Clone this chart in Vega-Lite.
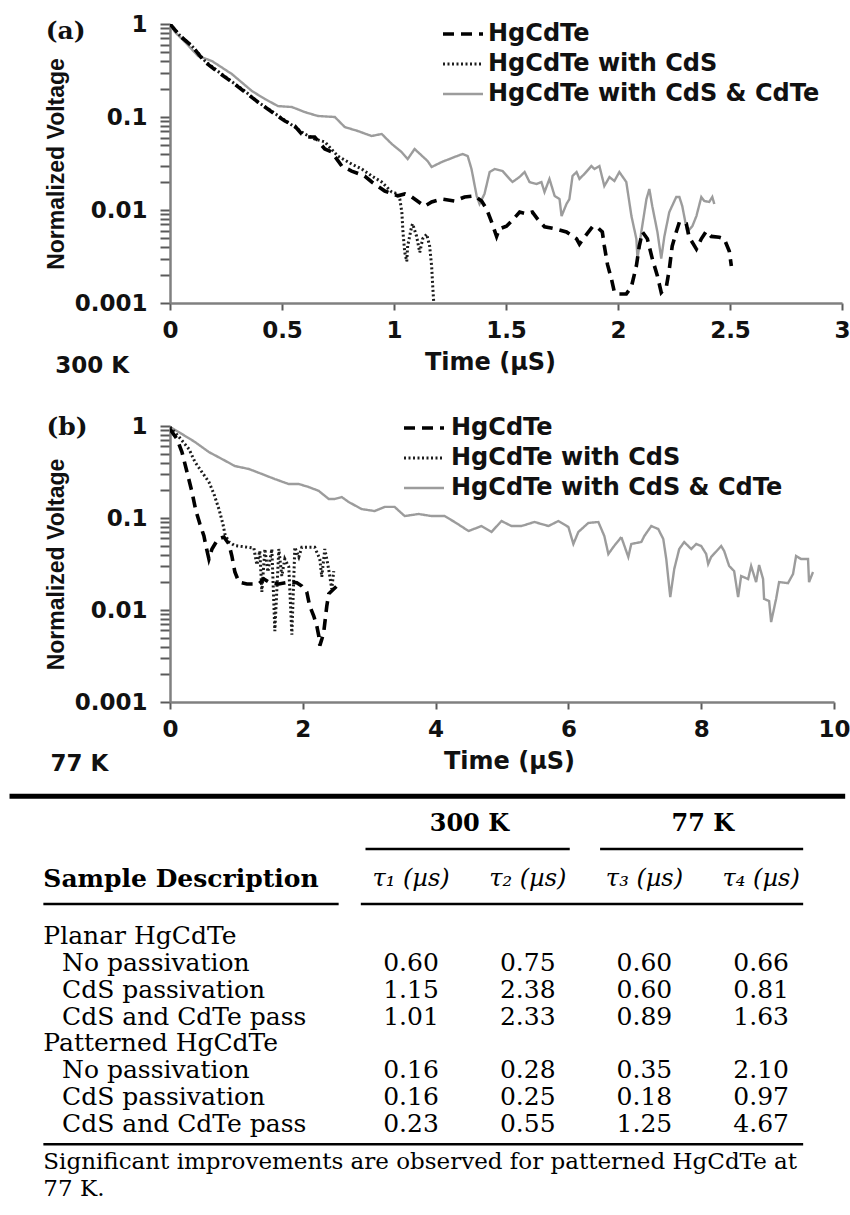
{
  "$schema": "https://vega.github.io/schema/vega-lite/v6.json",
  "background": "white",
  "padding": {"left": 7, "top": 13, "right": 0, "bottom": 0},
  "bounds": "flush",
  "spacing": 123,
  "resolve": {
    "scale": {"color": "independent", "strokeDash": "independent", "strokeWidth": "independent"},
    "legend": {"color": "independent", "strokeDash": "independent", "strokeWidth": "independent"}
  },
  "config": {
    "view": {"stroke": null},
    "font": "DejaVu Sans",
    "axis": {"grid": false, "ticks": true, "domainColor": "#808080", "domainWidth": 2.5, "tickColor": "#5a5a5a", "tickWidth": 2, "labelFont": "DejaVu Sans", "labelFontWeight": "bold", "labelFontSize": 23, "labelColor": "#111111", "titleColor": "#111111", "labelFlush": false, "format": "~g"},
    "axisX": {"tickSize": 7, "labelPadding": 9, "titleFont": "DejaVu Sans", "titleFontSize": 24, "titleFontWeight": "bold", "titlePadding": 8},
    "axisY": {"tickSize": 10, "labelPadding": 13, "titleFont": "Liberation Sans", "titleFontSize": 23, "titleFontWeight": "bold", "titlePadding": 6, "labelOverlap": false}
  },
  "datasets": {
    "panelA": [
      {"series":"HgCdTe with CdS & CdTe","time":0,"voltage":1},{"series":"HgCdTe with CdS & CdTe","time":0.022,"voltage":0.82},{"series":"HgCdTe with CdS & CdTe","time":0.067,"voltage":0.64},{"series":"HgCdTe with CdS & CdTe","time":0.125,"voltage":0.453},{"series":"HgCdTe with CdS & CdTe","time":0.187,"voltage":0.40},{"series":"HgCdTe with CdS & CdTe","time":0.276,"voltage":0.29},{"series":"HgCdTe with CdS & CdTe","time":0.366,"voltage":0.19},{"series":"HgCdTe with CdS & CdTe","time":0.424,"voltage":0.156},{"series":"HgCdTe with CdS & CdTe","time":0.482,"voltage":0.131},{"series":"HgCdTe with CdS & CdTe","time":0.544,"voltage":0.128},{"series":"HgCdTe with CdS & CdTe","time":0.602,"voltage":0.113},{"series":"HgCdTe with CdS & CdTe","time":0.66,"voltage":0.1025},{"series":"HgCdTe with CdS & CdTe","time":0.736,"voltage":0.10},{"series":"HgCdTe with CdS & CdTe","time":0.78,"voltage":0.078},{"series":"HgCdTe with CdS & CdTe","time":0.838,"voltage":0.0707},{"series":"HgCdTe with CdS & CdTe","time":0.90,"voltage":0.0625},{"series":"HgCdTe with CdS & CdTe","time":0.945,"voltage":0.0657},{"series":"HgCdTe with CdS & CdTe","time":0.99,"voltage":0.0513},{"series":"HgCdTe with CdS & CdTe","time":1.034,"voltage":0.042},{"series":"HgCdTe with CdS & CdTe","time":1.061,"voltage":0.0353},{"series":"HgCdTe with CdS & CdTe","time":1.092,"voltage":0.0453},{"series":"HgCdTe with CdS & CdTe","time":1.15,"voltage":0.0336},{"series":"HgCdTe with CdS & CdTe","time":1.168,"voltage":0.029},{"series":"HgCdTe with CdS & CdTe","time":1.213,"voltage":0.0328},{"series":"HgCdTe with CdS & CdTe","time":1.271,"voltage":0.0372},{"series":"HgCdTe with CdS & CdTe","time":1.306,"voltage":0.04},{"series":"HgCdTe with CdS & CdTe","time":1.329,"voltage":0.038},{"series":"HgCdTe with CdS & CdTe","time":1.346,"voltage":0.0276},{"series":"HgCdTe with CdS & CdTe","time":1.369,"voltage":0.0142},{"series":"HgCdTe with CdS & CdTe","time":1.382,"voltage":0.0116},{"series":"HgCdTe with CdS & CdTe","time":1.404,"voltage":0.0149},{"series":"HgCdTe with CdS & CdTe","time":1.427,"voltage":0.0256},{"series":"HgCdTe with CdS & CdTe","time":1.449,"voltage":0.0276},{"series":"HgCdTe with CdS & CdTe","time":1.485,"voltage":0.0262},{"series":"HgCdTe with CdS & CdTe","time":1.516,"voltage":0.0216},{"series":"HgCdTe with CdS & CdTe","time":1.529,"voltage":0.020},{"series":"HgCdTe with CdS & CdTe","time":1.56,"voltage":0.0226},{"series":"HgCdTe with CdS & CdTe","time":1.583,"voltage":0.0256},{"series":"HgCdTe with CdS & CdTe","time":1.605,"voltage":0.020},{"series":"HgCdTe with CdS & CdTe","time":1.636,"voltage":0.019},{"series":"HgCdTe with CdS & CdTe","time":1.658,"voltage":0.020},{"series":"HgCdTe with CdS & CdTe","time":1.672,"voltage":0.0156},{"series":"HgCdTe with CdS & CdTe","time":1.694,"voltage":0.0216},{"series":"HgCdTe with CdS & CdTe","time":1.717,"voltage":0.0142},{"series":"HgCdTe with CdS & CdTe","time":1.739,"voltage":0.0131},{"series":"HgCdTe with CdS & CdTe","time":1.748,"voltage":0.0086},{"series":"HgCdTe with CdS & CdTe","time":1.77,"voltage":0.0116},{"series":"HgCdTe with CdS & CdTe","time":1.783,"voltage":0.0131},{"series":"HgCdTe with CdS & CdTe","time":1.797,"voltage":0.0232},{"series":"HgCdTe with CdS & CdTe","time":1.815,"voltage":0.0256},{"series":"HgCdTe with CdS & CdTe","time":1.828,"voltage":0.0216},{"series":"HgCdTe with CdS & CdTe","time":1.85,"voltage":0.0244},{"series":"HgCdTe with CdS & CdTe","time":1.881,"voltage":0.0297},{"series":"HgCdTe with CdS & CdTe","time":1.895,"voltage":0.0276},{"series":"HgCdTe with CdS & CdTe","time":1.917,"voltage":0.0297},{"series":"HgCdTe with CdS & CdTe","time":1.939,"voltage":0.0181},{"series":"HgCdTe with CdS & CdTe","time":1.962,"voltage":0.0226},{"series":"HgCdTe with CdS & CdTe","time":1.984,"voltage":0.0205},{"series":"HgCdTe with CdS & CdTe","time":2.006,"voltage":0.0256},{"series":"HgCdTe with CdS & CdTe","time":2.037,"voltage":0.020},{"series":"HgCdTe with CdS & CdTe","time":2.06,"voltage":0.0086},{"series":"HgCdTe with CdS & CdTe","time":2.082,"voltage":0.0049},{"series":"HgCdTe with CdS & CdTe","time":2.087,"voltage":0.003},{"series":"HgCdTe with CdS & CdTe","time":2.104,"voltage":0.0058},{"series":"HgCdTe with CdS & CdTe","time":2.127,"voltage":0.0131},{"series":"HgCdTe with CdS & CdTe","time":2.14,"voltage":0.0168},{"series":"HgCdTe with CdS & CdTe","time":2.153,"voltage":0.011},{"series":"HgCdTe with CdS & CdTe","time":2.176,"voltage":0.0058},{"series":"HgCdTe with CdS & CdTe","time":2.193,"voltage":0.003},{"series":"HgCdTe with CdS & CdTe","time":2.207,"voltage":0.0052},{"series":"HgCdTe with CdS & CdTe","time":2.229,"voltage":0.0095},{"series":"HgCdTe with CdS & CdTe","time":2.26,"voltage":0.0138},{"series":"HgCdTe with CdS & CdTe","time":2.274,"voltage":0.0138},{"series":"HgCdTe with CdS & CdTe","time":2.287,"voltage":0.011},{"series":"HgCdTe with CdS & CdTe","time":2.309,"voltage":0.0058},{"series":"HgCdTe with CdS & CdTe","time":2.332,"voltage":0.0067},{"series":"HgCdTe with CdS & CdTe","time":2.35,"voltage":0.0086},{"series":"HgCdTe with CdS & CdTe","time":2.372,"voltage":0.0138},{"series":"HgCdTe with CdS & CdTe","time":2.385,"voltage":0.0125},{"series":"HgCdTe with CdS & CdTe","time":2.407,"voltage":0.0122},{"series":"HgCdTe with CdS & CdTe","time":2.421,"voltage":0.0138},{"series":"HgCdTe with CdS & CdTe","time":2.43,"voltage":0.0116},
      {"series":"HgCdTe with CdS","time":0,"voltage":1},{"series":"HgCdTe with CdS","time":0.045,"voltage":0.75},{"series":"HgCdTe with CdS","time":0.098,"voltage":0.58},{"series":"HgCdTe with CdS","time":0.156,"voltage":0.40},{"series":"HgCdTe with CdS","time":0.214,"voltage":0.31},{"series":"HgCdTe with CdS","time":0.276,"voltage":0.24},{"series":"HgCdTe with CdS","time":0.334,"voltage":0.19},{"series":"HgCdTe with CdS","time":0.392,"voltage":0.145},{"series":"HgCdTe with CdS","time":0.455,"voltage":0.115},{"series":"HgCdTe with CdS","time":0.513,"voltage":0.092},{"series":"HgCdTe with CdS","time":0.557,"voltage":0.078},{"series":"HgCdTe with CdS","time":0.60,"voltage":0.066},{"series":"HgCdTe with CdS","time":0.646,"voltage":0.058},{"series":"HgCdTe with CdS","time":0.691,"voltage":0.054},{"series":"HgCdTe with CdS","time":0.749,"voltage":0.038},{"series":"HgCdTe with CdS","time":0.811,"voltage":0.0312},{"series":"HgCdTe with CdS","time":0.856,"voltage":0.0276},{"series":"HgCdTe with CdS","time":0.901,"voltage":0.0232},{"series":"HgCdTe with CdS","time":0.945,"voltage":0.020},{"series":"HgCdTe with CdS","time":0.99,"voltage":0.0156},{"series":"HgCdTe with CdS","time":1.017,"voltage":0.0149},{"series":"HgCdTe with CdS","time":1.026,"voltage":0.0131},{"series":"HgCdTe with CdS","time":1.035,"voltage":0.0095},{"series":"HgCdTe with CdS","time":1.04,"voltage":0.0058},{"series":"HgCdTe with CdS","time":1.048,"voltage":0.0035},{"series":"HgCdTe with CdS","time":1.057,"voltage":0.0028},{"series":"HgCdTe with CdS","time":1.061,"voltage":0.0041},{"series":"HgCdTe with CdS","time":1.079,"voltage":0.0067},{"series":"HgCdTe with CdS","time":1.083,"voltage":0.0071},{"series":"HgCdTe with CdS","time":1.101,"voltage":0.0052},{"series":"HgCdTe with CdS","time":1.115,"voltage":0.0035},{"series":"HgCdTe with CdS","time":1.128,"voltage":0.0049},{"series":"HgCdTe with CdS","time":1.146,"voltage":0.0055},{"series":"HgCdTe with CdS","time":1.159,"voltage":0.0041},{"series":"HgCdTe with CdS","time":1.168,"voltage":0.0025},{"series":"HgCdTe with CdS","time":1.173,"voltage":0.0015},{"series":"HgCdTe with CdS","time":1.177,"voltage":0.00105},
      {"series":"HgCdTe","time":0,"voltage":1},{"series":"HgCdTe","time":0.045,"voltage":0.743},{"series":"HgCdTe","time":0.098,"voltage":0.58},{"series":"HgCdTe","time":0.156,"voltage":0.39},{"series":"HgCdTe","time":0.214,"voltage":0.305},{"series":"HgCdTe","time":0.276,"voltage":0.238},{"series":"HgCdTe","time":0.334,"voltage":0.186},{"series":"HgCdTe","time":0.392,"voltage":0.145},{"series":"HgCdTe","time":0.455,"voltage":0.113},{"series":"HgCdTe","time":0.513,"voltage":0.0906},{"series":"HgCdTe","time":0.557,"voltage":0.080},{"series":"HgCdTe","time":0.588,"voltage":0.0657},{"series":"HgCdTe","time":0.615,"voltage":0.061},{"series":"HgCdTe","time":0.646,"voltage":0.061},{"series":"HgCdTe","time":0.691,"voltage":0.0453},{"series":"HgCdTe","time":0.722,"voltage":0.042},{"series":"HgCdTe","time":0.767,"voltage":0.0297},{"series":"HgCdTe","time":0.811,"voltage":0.0262},{"series":"HgCdTe","time":0.869,"voltage":0.0232},{"series":"HgCdTe","time":0.901,"voltage":0.020},{"series":"HgCdTe","time":0.959,"voltage":0.016},{"series":"HgCdTe","time":1.017,"voltage":0.0142},{"series":"HgCdTe","time":1.048,"voltage":0.0149},{"series":"HgCdTe","time":1.079,"voltage":0.0138},{"series":"HgCdTe","time":1.137,"voltage":0.011},{"series":"HgCdTe","time":1.168,"voltage":0.0122},{"series":"HgCdTe","time":1.213,"voltage":0.0131},{"series":"HgCdTe","time":1.271,"voltage":0.0125},{"series":"HgCdTe","time":1.315,"voltage":0.0138},{"series":"HgCdTe","time":1.36,"voltage":0.0142},{"series":"HgCdTe","time":1.391,"voltage":0.0125},{"series":"HgCdTe","time":1.413,"voltage":0.0103},{"series":"HgCdTe","time":1.436,"voltage":0.0074},{"series":"HgCdTe","time":1.458,"voltage":0.0052},{"series":"HgCdTe","time":1.47,"voltage":0.00625},{"series":"HgCdTe","time":1.502,"voltage":0.0067},{"series":"HgCdTe","time":1.525,"voltage":0.0076},{"series":"HgCdTe","time":1.561,"voltage":0.0095},{"series":"HgCdTe","time":1.592,"voltage":0.0091},{"series":"HgCdTe","time":1.618,"voltage":0.0095},{"series":"HgCdTe","time":1.641,"voltage":0.008},{"series":"HgCdTe","time":1.672,"voltage":0.0066},{"series":"HgCdTe","time":1.716,"voltage":0.0063},{"series":"HgCdTe","time":1.77,"voltage":0.0058},{"series":"HgCdTe","time":1.815,"voltage":0.0049},{"series":"HgCdTe","time":1.828,"voltage":0.0043},{"series":"HgCdTe","time":1.85,"voltage":0.0051},{"series":"HgCdTe","time":1.886,"voltage":0.0066},{"series":"HgCdTe","time":1.905,"voltage":0.0066},{"series":"HgCdTe","time":1.93,"voltage":0.0058},{"series":"HgCdTe","time":1.939,"voltage":0.0041},{"series":"HgCdTe","time":1.953,"voltage":0.0026},{"series":"HgCdTe","time":1.971,"voltage":0.0018},{"series":"HgCdTe","time":1.984,"voltage":0.0013},{"series":"HgCdTe","time":2.006,"voltage":0.00125},{"series":"HgCdTe","time":2.037,"voltage":0.00125},{"series":"HgCdTe","time":2.06,"voltage":0.0015},{"series":"HgCdTe","time":2.082,"voltage":0.0025},{"series":"HgCdTe","time":2.095,"voltage":0.0041},{"series":"HgCdTe","time":2.109,"voltage":0.0058},{"series":"HgCdTe","time":2.131,"voltage":0.0049},{"series":"HgCdTe","time":2.153,"voltage":0.003},{"series":"HgCdTe","time":2.176,"voltage":0.00195},{"series":"HgCdTe","time":2.193,"voltage":0.0013},{"series":"HgCdTe","time":2.216,"voltage":0.0015},{"series":"HgCdTe","time":2.229,"voltage":0.0023},{"series":"HgCdTe","time":2.242,"voltage":0.0041},{"series":"HgCdTe","time":2.26,"voltage":0.0058},{"series":"HgCdTe","time":2.274,"voltage":0.0074},{"series":"HgCdTe","time":2.305,"voltage":0.0071},{"series":"HgCdTe","time":2.318,"voltage":0.0051},{"series":"HgCdTe","time":2.35,"voltage":0.0038},{"series":"HgCdTe","time":2.372,"voltage":0.0049},{"series":"HgCdTe","time":2.394,"voltage":0.0059},{"series":"HgCdTe","time":2.416,"voltage":0.0052},{"series":"HgCdTe","time":2.452,"voltage":0.0051},{"series":"HgCdTe","time":2.474,"voltage":0.0049},{"series":"HgCdTe","time":2.497,"voltage":0.0036},{"series":"HgCdTe","time":2.506,"voltage":0.0025}
    ],
    "panelB": [
      {"series":"HgCdTe with CdS & CdTe","time":0,"voltage":0.975},{"series":"HgCdTe with CdS & CdTe","time":0.18,"voltage":0.818},{"series":"HgCdTe with CdS & CdTe","time":0.376,"voltage":0.67},{"series":"HgCdTe with CdS & CdTe","time":0.586,"voltage":0.521},{"series":"HgCdTe with CdS & CdTe","time":0.782,"voltage":0.438},{"series":"HgCdTe with CdS & CdTe","time":0.977,"voltage":0.367},{"series":"HgCdTe with CdS & CdTe","time":1.188,"voltage":0.341},{"series":"HgCdTe with CdS & CdTe","time":1.383,"voltage":0.301},{"series":"HgCdTe with CdS & CdTe","time":1.579,"voltage":0.265},{"series":"HgCdTe with CdS & CdTe","time":1.789,"voltage":0.234},{"series":"HgCdTe with CdS & CdTe","time":1.94,"voltage":0.234},{"series":"HgCdTe with CdS & CdTe","time":2.09,"voltage":0.217},{"series":"HgCdTe with CdS & CdTe","time":2.241,"voltage":0.197},{"series":"HgCdTe with CdS & CdTe","time":2.391,"voltage":0.161},{"series":"HgCdTe with CdS & CdTe","time":2.481,"voltage":0.161},{"series":"HgCdTe with CdS & CdTe","time":2.586,"voltage":0.169},{"series":"HgCdTe with CdS & CdTe","time":2.692,"voltage":0.149},{"series":"HgCdTe with CdS & CdTe","time":2.887,"voltage":0.125},{"series":"HgCdTe with CdS & CdTe","time":3.083,"voltage":0.119},{"series":"HgCdTe with CdS & CdTe","time":3.233,"voltage":0.132},{"series":"HgCdTe with CdS & CdTe","time":3.383,"voltage":0.132},{"series":"HgCdTe with CdS & CdTe","time":3.534,"voltage":0.105},{"series":"HgCdTe with CdS & CdTe","time":3.744,"voltage":0.1105},{"series":"HgCdTe with CdS & CdTe","time":3.94,"voltage":0.105},{"series":"HgCdTe with CdS & CdTe","time":4.135,"voltage":0.105},{"series":"HgCdTe with CdS & CdTe","time":4.286,"voltage":0.0905},{"series":"HgCdTe with CdS & CdTe","time":4.496,"voltage":0.0722},{"series":"HgCdTe with CdS & CdTe","time":4.692,"voltage":0.0818},{"series":"HgCdTe with CdS & CdTe","time":4.842,"voltage":0.0705},{"series":"HgCdTe with CdS & CdTe","time":4.992,"voltage":0.0927},{"series":"HgCdTe with CdS & CdTe","time":5.143,"voltage":0.0818},{"series":"HgCdTe with CdS & CdTe","time":5.293,"voltage":0.0818},{"series":"HgCdTe with CdS & CdTe","time":5.489,"voltage":0.0905},{"series":"HgCdTe with CdS & CdTe","time":5.699,"voltage":0.0818},{"series":"HgCdTe with CdS & CdTe","time":5.85,"voltage":0.0927},{"series":"HgCdTe with CdS & CdTe","time":6.0,"voltage":0.0798},{"series":"HgCdTe with CdS & CdTe","time":6.075,"voltage":0.0522},{"series":"HgCdTe with CdS & CdTe","time":6.15,"voltage":0.0705},{"series":"HgCdTe with CdS & CdTe","time":6.3,"voltage":0.0883},{"series":"HgCdTe with CdS & CdTe","time":6.451,"voltage":0.0905},{"series":"HgCdTe with CdS & CdTe","time":6.541,"voltage":0.0637},{"series":"HgCdTe with CdS & CdTe","time":6.602,"voltage":0.0406},{"series":"HgCdTe with CdS & CdTe","time":6.677,"voltage":0.0484},{"series":"HgCdTe with CdS & CdTe","time":6.797,"voltage":0.0621},{"series":"HgCdTe with CdS & CdTe","time":6.902,"voltage":0.0377},{"series":"HgCdTe with CdS & CdTe","time":6.947,"voltage":0.0522},{"series":"HgCdTe with CdS & CdTe","time":7.098,"voltage":0.0548},{"series":"HgCdTe with CdS & CdTe","time":7.143,"voltage":0.0637},{"series":"HgCdTe with CdS & CdTe","time":7.248,"voltage":0.0818},{"series":"HgCdTe with CdS & CdTe","time":7.353,"voltage":0.0759},{"series":"HgCdTe with CdS & CdTe","time":7.429,"voltage":0.0591},{"series":"HgCdTe with CdS & CdTe","time":7.474,"voltage":0.0358},{"series":"HgCdTe with CdS & CdTe","time":7.534,"voltage":0.0138},{"series":"HgCdTe with CdS & CdTe","time":7.594,"voltage":0.0279},{"series":"HgCdTe with CdS & CdTe","time":7.669,"voltage":0.046},{"series":"HgCdTe with CdS & CdTe","time":7.744,"voltage":0.0548},{"series":"HgCdTe with CdS & CdTe","time":7.85,"voltage":0.046},{"series":"HgCdTe with CdS & CdTe","time":7.925,"voltage":0.0522},{"series":"HgCdTe with CdS & CdTe","time":8.0,"voltage":0.0496},{"series":"HgCdTe with CdS & CdTe","time":8.075,"voltage":0.0406},{"series":"HgCdTe with CdS & CdTe","time":8.105,"voltage":0.0316},{"series":"HgCdTe with CdS & CdTe","time":8.15,"voltage":0.0377},{"series":"HgCdTe with CdS & CdTe","time":8.301,"voltage":0.0496},{"series":"HgCdTe with CdS & CdTe","time":8.346,"voltage":0.0438},{"series":"HgCdTe with CdS & CdTe","time":8.421,"voltage":0.0301},{"series":"HgCdTe with CdS & CdTe","time":8.496,"voltage":0.0265},{"series":"HgCdTe with CdS & CdTe","time":8.556,"voltage":0.0138},{"series":"HgCdTe with CdS & CdTe","time":8.602,"voltage":0.0234},{"series":"HgCdTe with CdS & CdTe","time":8.707,"voltage":0.0217},{"series":"HgCdTe with CdS & CdTe","time":8.752,"voltage":0.0301},{"series":"HgCdTe with CdS & CdTe","time":8.827,"voltage":0.0201},{"series":"HgCdTe with CdS & CdTe","time":8.872,"voltage":0.0308},{"series":"HgCdTe with CdS & CdTe","time":8.932,"voltage":0.0217},{"series":"HgCdTe with CdS & CdTe","time":8.947,"voltage":0.0132},{"series":"HgCdTe with CdS & CdTe","time":9.023,"voltage":0.0125},{"series":"HgCdTe with CdS & CdTe","time":9.053,"voltage":0.0074},{"series":"HgCdTe with CdS & CdTe","time":9.128,"voltage":0.0132},{"series":"HgCdTe with CdS & CdTe","time":9.173,"voltage":0.0201},{"series":"HgCdTe with CdS & CdTe","time":9.308,"voltage":0.0196},{"series":"HgCdTe with CdS & CdTe","time":9.383,"voltage":0.0246},{"series":"HgCdTe with CdS & CdTe","time":9.429,"voltage":0.0386},{"series":"HgCdTe with CdS & CdTe","time":9.504,"voltage":0.0358},{"series":"HgCdTe with CdS & CdTe","time":9.609,"voltage":0.0358},{"series":"HgCdTe with CdS & CdTe","time":9.624,"voltage":0.0201},{"series":"HgCdTe with CdS & CdTe","time":9.684,"voltage":0.0259},
      {"series":"HgCdTe with CdS","time":0,"voltage":0.975},{"series":"HgCdTe with CdS","time":0.135,"voltage":0.76},{"series":"HgCdTe with CdS","time":0.286,"voltage":0.562},{"series":"HgCdTe with CdS","time":0.376,"voltage":0.406},{"series":"HgCdTe with CdS","time":0.481,"voltage":0.316},{"series":"HgCdTe with CdS","time":0.586,"voltage":0.246},{"series":"HgCdTe with CdS","time":0.662,"voltage":0.182},{"series":"HgCdTe with CdS","time":0.737,"voltage":0.125},{"series":"HgCdTe with CdS","time":0.797,"voltage":0.086},{"series":"HgCdTe with CdS","time":0.827,"voltage":0.067},{"series":"HgCdTe with CdS","time":0.887,"voltage":0.055},{"series":"HgCdTe with CdS","time":0.977,"voltage":0.05},{"series":"HgCdTe with CdS","time":1.188,"voltage":0.048},{"series":"HgCdTe with CdS","time":1.263,"voltage":0.047},{"series":"HgCdTe with CdS","time":1.308,"voltage":0.031},{"series":"HgCdTe with CdS","time":1.353,"voltage":0.044},{"series":"HgCdTe with CdS","time":1.383,"voltage":0.0157},{"series":"HgCdTe with CdS","time":1.429,"voltage":0.046},{"series":"HgCdTe with CdS","time":1.474,"voltage":0.026},{"series":"HgCdTe with CdS","time":1.534,"voltage":0.046},{"series":"HgCdTe with CdS","time":1.579,"voltage":0.0059},{"series":"HgCdTe with CdS","time":1.639,"voltage":0.046},{"series":"HgCdTe with CdS","time":1.684,"voltage":0.0234},{"series":"HgCdTe with CdS","time":1.729,"voltage":0.0358},{"series":"HgCdTe with CdS","time":1.789,"voltage":0.0294},{"series":"HgCdTe with CdS","time":1.835,"voltage":0.0054},{"series":"HgCdTe with CdS","time":1.88,"voltage":0.048},{"series":"HgCdTe with CdS","time":1.94,"voltage":0.0376},{"series":"HgCdTe with CdS","time":1.985,"voltage":0.048},{"series":"HgCdTe with CdS","time":2.18,"voltage":0.048},{"series":"HgCdTe with CdS","time":2.256,"voltage":0.0358},{"series":"HgCdTe with CdS","time":2.286,"voltage":0.0229},{"series":"HgCdTe with CdS","time":2.331,"voltage":0.046},{"series":"HgCdTe with CdS","time":2.376,"voltage":0.0316},{"series":"HgCdTe with CdS","time":2.406,"voltage":0.0234},{"series":"HgCdTe with CdS","time":2.436,"voltage":0.0169},{"series":"HgCdTe with CdS","time":2.466,"voltage":0.0265},
      {"series":"HgCdTe","time":0,"voltage":0.928},{"series":"HgCdTe","time":0.105,"voltage":0.723},{"series":"HgCdTe","time":0.18,"voltage":0.521},{"series":"HgCdTe","time":0.256,"voltage":0.316},{"series":"HgCdTe","time":0.331,"voltage":0.192},{"series":"HgCdTe","time":0.391,"voltage":0.119},{"series":"HgCdTe","time":0.451,"voltage":0.086},{"series":"HgCdTe","time":0.511,"voltage":0.0637},{"series":"HgCdTe","time":0.541,"voltage":0.0496},{"series":"HgCdTe","time":0.586,"voltage":0.0358},{"series":"HgCdTe","time":0.632,"voltage":0.046},{"series":"HgCdTe","time":0.722,"voltage":0.0591},{"series":"HgCdTe","time":0.812,"voltage":0.0621},{"series":"HgCdTe","time":0.887,"voltage":0.0522},{"series":"HgCdTe","time":0.932,"voltage":0.0386},{"series":"HgCdTe","time":0.977,"voltage":0.0259},{"series":"HgCdTe","time":1.038,"voltage":0.0201},{"series":"HgCdTe","time":1.158,"voltage":0.0192},{"series":"HgCdTe","time":1.338,"voltage":0.0192},{"series":"HgCdTe","time":1.414,"voltage":0.0217},{"series":"HgCdTe","time":1.504,"voltage":0.0198},{"series":"HgCdTe","time":1.639,"voltage":0.0192},{"series":"HgCdTe","time":1.805,"voltage":0.0201},{"series":"HgCdTe","time":1.91,"voltage":0.0198},{"series":"HgCdTe","time":1.985,"voltage":0.0182},{"series":"HgCdTe","time":2.06,"voltage":0.0157},{"series":"HgCdTe","time":2.105,"voltage":0.011},{"series":"HgCdTe","time":2.165,"voltage":0.0086},{"series":"HgCdTe","time":2.211,"voltage":0.0067},{"series":"HgCdTe","time":2.241,"voltage":0.0052},{"series":"HgCdTe","time":2.256,"voltage":0.0041},{"series":"HgCdTe","time":2.286,"voltage":0.0048},{"series":"HgCdTe","time":2.316,"voltage":0.0058},{"series":"HgCdTe","time":2.361,"voltage":0.011},{"series":"HgCdTe","time":2.391,"voltage":0.015},{"series":"HgCdTe","time":2.466,"voltage":0.0169},{"series":"HgCdTe","time":2.511,"voltage":0.0182}
    ],
    "table": [
      {"label":"Planar HgCdTe","level":"group"},
      {"label":"No passivation","level":"sample","tau1":0.60,"tau2":0.75,"tau3":0.60,"tau4":0.66},
      {"label":"CdS passivation","level":"sample","tau1":1.15,"tau2":2.38,"tau3":0.60,"tau4":0.81},
      {"label":"CdS and CdTe pass","level":"sample","tau1":1.01,"tau2":2.33,"tau3":0.89,"tau4":1.63},
      {"label":"Patterned HgCdTe","level":"group"},
      {"label":"No passivation","level":"sample","tau1":0.16,"tau2":0.28,"tau3":0.35,"tau4":2.10},
      {"label":"CdS passivation","level":"sample","tau1":0.16,"tau2":0.25,"tau3":0.18,"tau4":0.97},
      {"label":"CdS and CdTe pass","level":"sample","tau1":0.23,"tau2":0.55,"tau3":1.25,"tau4":4.67}
    ]
  },
  "vconcat": [
    {
      "width": 672,
      "height": 279,
      "layer": [
        {
          "data": {"name": "panelA"},
          "mark": {"type": "line", "clip": true, "strokeCap": "butt"},
          "encoding": {
            "x": {"field": "time", "type": "quantitative", "scale": {"domain": [0, 3], "nice": false, "zero": false},
                  "axis": {"values": [0, 0.5, 1, 1.5, 2, 2.5, 3], "title": "Time (µS)", "titleX": 320}},
            "y": {"field": "voltage", "type": "quantitative", "scale": {"type": "log", "domain": [0.001, 1], "nice": false},
                  "axis": {"values": [0.001,0.002,0.003,0.004,0.005,0.006,0.007,0.008,0.009,0.01,0.02,0.03,0.04,0.05,0.06,0.07,0.08,0.09,0.1,0.2,0.3,0.4,0.5,0.6,0.7,0.8,0.9,1],
                           "labelExpr": "datum.value == 1 ? '1' : datum.value == 0.1 ? '0.1' : datum.value == 0.01 ? '0.01' : datum.value == 0.001 ? '0.001' : ''",
                           "title": "Normalized Voltage"}},
            "color": {"field": "series", "type": "nominal",
                      "scale": {"domain": ["HgCdTe", "HgCdTe with CdS", "HgCdTe with CdS & CdTe"], "range": ["#000000", "#1c1c1c", "#9c9c9c"]},
                      "legend": {"title": null, "orient": "none", "legendX": 271, "legendY": -5, "symbolType": "stroke", "symbolSize": 1600, "clipHeight": 30, "labelFont": "DejaVu Sans", "labelFontWeight": "bold", "labelFontSize": 24, "labelColor": "#111111", "labelOffset": 3, "rowPadding": 0, "padding": 0, "labelLimit": 500}},
            "strokeDash": {"field": "series", "type": "nominal",
                           "scale": {"domain": ["HgCdTe", "HgCdTe with CdS", "HgCdTe with CdS & CdTe"], "range": [[11, 7], [2, 2.5], [1, 0]]}},
            "strokeWidth": {"field": "series", "type": "nominal",
                            "scale": {"domain": ["HgCdTe", "HgCdTe with CdS", "HgCdTe with CdS & CdTe"], "range": [3.6, 2.4, 2.4]}}
          }
        },
        {
          "data": {"values": [{}]},
          "mark": {"type": "text", "font": "DejaVu Serif", "fontWeight": "bold", "fontSize": 25, "align": "left", "baseline": "middle", "color": "#111111"},
          "encoding": {"x": {"datum": -0.555, "type": "quantitative"}, "y": {"datum": 0.84, "type": "quantitative"}, "text": {"value": "(a)"}}
        },
        {
          "data": {"values": [{}]},
          "mark": {"type": "text", "font": "DejaVu Sans", "fontWeight": "bold", "fontSize": 23, "align": "left", "baseline": "middle", "color": "#111111"},
          "encoding": {"x": {"datum": -0.512, "type": "quantitative"}, "y": {"datum": 0.00021, "type": "quantitative"}, "text": {"value": "300 K"}}
        }
      ]
    },
    {
      "width": 664,
      "height": 276,
      "layer": [
        {
          "data": {"name": "panelB"},
          "mark": {"type": "line", "clip": true, "strokeCap": "butt"},
          "encoding": {
            "x": {"field": "time", "type": "quantitative", "scale": {"domain": [0, 10], "nice": false, "zero": false},
                  "axis": {"values": [0, 2, 4, 6, 8, 10], "title": "Time (µS)", "titleX": 339}},
            "y": {"field": "voltage", "type": "quantitative", "scale": {"type": "log", "domain": [0.001, 1], "nice": false},
                  "axis": {"values": [0.001,0.002,0.003,0.004,0.005,0.006,0.007,0.008,0.009,0.01,0.02,0.03,0.04,0.05,0.06,0.07,0.08,0.09,0.1,0.2,0.3,0.4,0.5,0.6,0.7,0.8,0.9,1],
                           "labelExpr": "datum.value == 1 ? '1' : datum.value == 0.1 ? '0.1' : datum.value == 0.01 ? '0.01' : datum.value == 0.001 ? '0.001' : ''",
                           "title": "Normalized Voltage"}},
            "color": {"field": "series", "type": "nominal",
                      "scale": {"domain": ["HgCdTe", "HgCdTe with CdS", "HgCdTe with CdS & CdTe"], "range": ["#000000", "#1c1c1c", "#9c9c9c"]},
                      "legend": {"title": null, "orient": "none", "legendX": 232, "legendY": -13, "symbolType": "stroke", "symbolSize": 1600, "clipHeight": 30, "labelFont": "DejaVu Sans", "labelFontWeight": "bold", "labelFontSize": 24, "labelColor": "#111111", "labelOffset": 5, "rowPadding": 0, "padding": 0, "labelLimit": 500}},
            "strokeDash": {"field": "series", "type": "nominal",
                           "scale": {"domain": ["HgCdTe", "HgCdTe with CdS", "HgCdTe with CdS & CdTe"], "range": [[11, 7], [2, 2.5], [1, 0]]}},
            "strokeWidth": {"field": "series", "type": "nominal",
                            "scale": {"domain": ["HgCdTe", "HgCdTe with CdS", "HgCdTe with CdS & CdTe"], "range": [3.6, 2.4, 2.4]}}
          }
        },
        {
          "data": {"values": [{}]},
          "mark": {"type": "text", "font": "DejaVu Serif", "fontWeight": "bold", "fontSize": 25, "align": "left", "baseline": "middle", "color": "#111111"},
          "encoding": {"x": {"datum": -1.86, "type": "quantitative"}, "y": {"datum": 0.98, "type": "quantitative"}, "text": {"value": "(b)"}}
        },
        {
          "data": {"values": [{}]},
          "mark": {"type": "text", "font": "DejaVu Sans", "fontWeight": "bold", "fontSize": 23, "align": "left", "baseline": "middle", "color": "#111111"},
          "encoding": {"x": {"datum": -1.8, "type": "quantitative"}, "y": {"datum": 0.00021, "type": "quantitative"}, "text": {"value": "77 K"}}
        }
      ]
    },
    {
      "width": 676,
      "height": 379,
      "data": {"name": "table"},
      "transform": [{"window": [{"op": "row_number", "as": "line"}]}],
      "layer": [
        {
          "data": {"values": [{}]},
          "mark": {"type": "rule", "color": "#000000", "strokeWidth": 5},
          "encoding": {"x": {"datum": -2.44, "type": "quantitative", "scale": {"domain": [-1.065, 4.727], "nice": false, "zero": false}, "axis": null},
                       "x2": {"datum": 4.72},
                       "y": {"datum": -4.2, "type": "quantitative", "scale": {"domain": [-3.131, 10.979], "nice": false, "zero": false, "reverse": true}, "axis": null}}
        },
        {
          "data": {"values": [{}]},
          "mark": {"type": "rule", "color": "#000000", "strokeWidth": 2.5},
          "encoding": {"x": {"datum": 0.61, "type": "quantitative"}, "x2": {"datum": 2.36}, "y": {"datum": -2.24, "type": "quantitative"}}
        },
        {
          "data": {"values": [{}]},
          "mark": {"type": "rule", "color": "#000000", "strokeWidth": 2.5},
          "encoding": {"x": {"datum": 2.62, "type": "quantitative"}, "x2": {"datum": 4.36}, "y": {"datum": -2.24, "type": "quantitative"}}
        },
        {
          "data": {"values": [{}]},
          "mark": {"type": "rule", "color": "#000000", "strokeWidth": 2.5},
          "encoding": {"x": {"datum": -2.15, "type": "quantitative"}, "x2": {"datum": 0.38}, "y": {"datum": -0.19, "type": "quantitative"}}
        },
        {
          "data": {"values": [{}]},
          "mark": {"type": "rule", "color": "#000000", "strokeWidth": 2.5},
          "encoding": {"x": {"datum": 0.57, "type": "quantitative"}, "x2": {"datum": 4.36}, "y": {"datum": -0.19, "type": "quantitative"}}
        },
        {
          "data": {"values": [{}]},
          "mark": {"type": "rule", "color": "#000000", "strokeWidth": 2.5},
          "encoding": {"x": {"datum": -2.15, "type": "quantitative"}, "x2": {"datum": 4.36}, "y": {"datum": 8.75, "type": "quantitative"}}
        },
        {
          "data": {"values": [{}]},
          "mark": {"type": "text", "font": "DejaVu Serif", "fontWeight": "bold", "fontSize": 24, "align": "center", "baseline": "middle", "color": "#000000"},
          "encoding": {"x": {"datum": 1.5, "type": "quantitative"}, "y": {"datum": -3.17, "type": "quantitative"}, "text": {"value": "300 K"}}
        },
        {
          "data": {"values": [{}]},
          "mark": {"type": "text", "font": "DejaVu Serif", "fontWeight": "bold", "fontSize": 24, "align": "center", "baseline": "middle", "color": "#000000"},
          "encoding": {"x": {"datum": 3.5, "type": "quantitative"}, "y": {"datum": -3.17, "type": "quantitative"}, "text": {"value": "77 K"}}
        },
        {
          "data": {"values": [{}]},
          "mark": {"type": "text", "font": "DejaVu Serif", "fontWeight": "bold", "fontSize": 25, "align": "left", "baseline": "middle", "color": "#000000"},
          "encoding": {"x": {"datum": -2.15, "type": "quantitative"}, "y": {"datum": -1.12, "type": "quantitative"}, "text": {"value": "Sample Description"}}
        },
        {
          "data": {"values": [{}]},
          "mark": {"type": "text", "font": "DejaVu Serif", "fontStyle": "italic", "fontSize": 24, "align": "center", "baseline": "middle", "color": "#000000"},
          "encoding": {"x": {"datum": 1, "type": "quantitative"}, "y": {"datum": -1.12, "type": "quantitative"}, "text": {"value": "τ₁ (µs)"}}
        },
        {
          "data": {"values": [{}]},
          "mark": {"type": "text", "font": "DejaVu Serif", "fontStyle": "italic", "fontSize": 24, "align": "center", "baseline": "middle", "color": "#000000"},
          "encoding": {"x": {"datum": 2, "type": "quantitative"}, "y": {"datum": -1.12, "type": "quantitative"}, "text": {"value": "τ₂ (µs)"}}
        },
        {
          "data": {"values": [{}]},
          "mark": {"type": "text", "font": "DejaVu Serif", "fontStyle": "italic", "fontSize": 24, "align": "center", "baseline": "middle", "color": "#000000"},
          "encoding": {"x": {"datum": 3, "type": "quantitative"}, "y": {"datum": -1.12, "type": "quantitative"}, "text": {"value": "τ₃ (µs)"}}
        },
        {
          "data": {"values": [{}]},
          "mark": {"type": "text", "font": "DejaVu Serif", "fontStyle": "italic", "fontSize": 24, "align": "center", "baseline": "middle", "color": "#000000"},
          "encoding": {"x": {"datum": 4, "type": "quantitative"}, "y": {"datum": -1.12, "type": "quantitative"}, "text": {"value": "τ₄ (µs)"}}
        },
        {
          "transform": [{"filter": "datum.level == 'group'"}],
          "mark": {"type": "text", "font": "DejaVu Serif", "fontSize": 25, "align": "left", "baseline": "middle", "color": "#000000"},
          "encoding": {"x": {"datum": -2.15, "type": "quantitative"}, "y": {"field": "line", "type": "quantitative"}, "text": {"field": "label"}}
        },
        {
          "transform": [{"filter": "datum.level == 'sample'"}],
          "mark": {"type": "text", "font": "DejaVu Serif", "fontSize": 25, "align": "left", "baseline": "middle", "color": "#000000"},
          "encoding": {"x": {"datum": -1.99, "type": "quantitative"}, "y": {"field": "line", "type": "quantitative"}, "text": {"field": "label"}}
        },
        {
          "transform": [{"filter": "datum.level == 'sample'"}],
          "mark": {"type": "text", "font": "DejaVu Serif", "fontSize": 25, "align": "center", "baseline": "middle", "color": "#000000"},
          "encoding": {"x": {"datum": 1, "type": "quantitative"}, "y": {"field": "line", "type": "quantitative"}, "text": {"field": "tau1", "format": ".2f"}}
        },
        {
          "transform": [{"filter": "datum.level == 'sample'"}],
          "mark": {"type": "text", "font": "DejaVu Serif", "fontSize": 25, "align": "center", "baseline": "middle", "color": "#000000"},
          "encoding": {"x": {"datum": 2, "type": "quantitative"}, "y": {"field": "line", "type": "quantitative"}, "text": {"field": "tau2", "format": ".2f"}}
        },
        {
          "transform": [{"filter": "datum.level == 'sample'"}],
          "mark": {"type": "text", "font": "DejaVu Serif", "fontSize": 25, "align": "center", "baseline": "middle", "color": "#000000"},
          "encoding": {"x": {"datum": 3, "type": "quantitative"}, "y": {"field": "line", "type": "quantitative"}, "text": {"field": "tau3", "format": ".2f"}}
        },
        {
          "transform": [{"filter": "datum.level == 'sample'"}],
          "mark": {"type": "text", "font": "DejaVu Serif", "fontSize": 25, "align": "center", "baseline": "middle", "color": "#000000"},
          "encoding": {"x": {"datum": 4, "type": "quantitative"}, "y": {"field": "line", "type": "quantitative"}, "text": {"field": "tau4", "format": ".2f"}}
        },
        {
          "data": {"values": [{}]},
          "mark": {"type": "text", "font": "DejaVu Serif", "fontSize": 23, "align": "left", "baseline": "middle", "color": "#000000", "lineHeight": 27},
          "encoding": {"x": {"datum": -2.15, "type": "quantitative"}, "y": {"datum": 9.42, "type": "quantitative"},
                       "text": {"value": ["Significant improvements are observed for patterned HgCdTe at", "77 K."]}}
        }
      ]
    }
  ]
}
